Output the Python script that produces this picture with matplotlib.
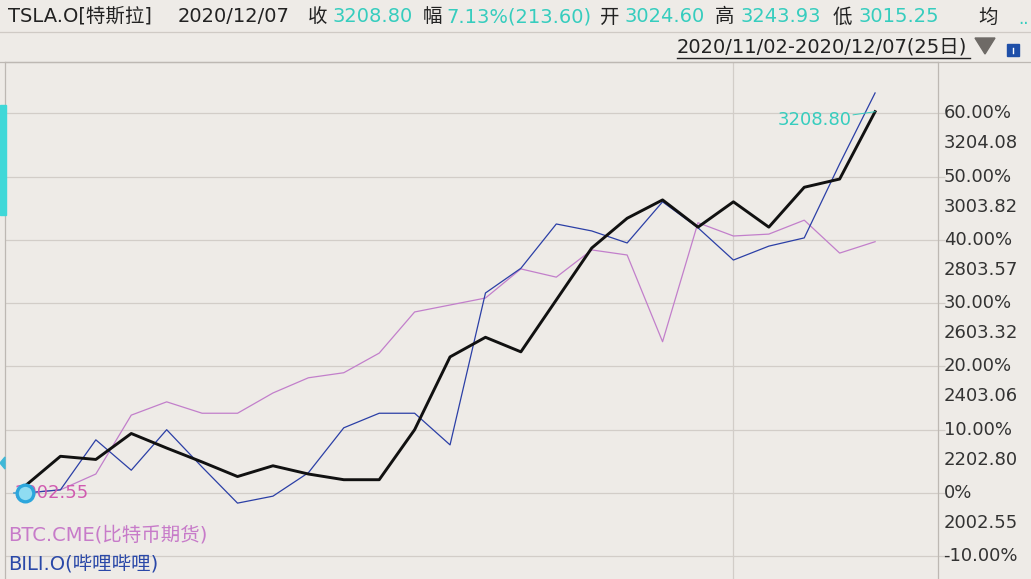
import matplotlib
matplotlib.use('Agg')
import matplotlib.pyplot as plt
from matplotlib.patches import Rectangle, Polygon
from matplotlib.lines import Line2D

# 数字用 DejaVu Sans，中文回退到 Noto Sans CJK
plt.rcParams['font.family'] = ['DejaVu Sans', 'Noto Sans CJK SC']
plt.rcParams['axes.unicode_minus'] = False

# ---- data (涨幅 %, 以 2020/11/02 前收 2002.55 为基准) ----
dates = ['11/02', '11/03', '11/04', '11/05', '11/06', '11/09', '11/10', '11/11', '11/12', '11/13',
         '11/16', '11/17', '11/18', '11/19', '11/20', '11/23', '11/24', '11/25', '11/27', '11/30',
         '12/01', '12/02', '12/03', '12/04', '12/07']
tsla_pct = [1.1, 5.8, 5.3, 9.4, 7.1, 4.9, 2.6, 4.3, 3.0, 2.1, 2.1, 10.0, 21.5, 24.6, 22.3,
            30.5, 38.7, 43.4, 46.3, 42.0, 46.0, 42.0, 48.3, 49.6, 60.24]
btc_pct = [0.0, 0.5, 3.0, 12.3, 14.4, 12.6, 12.6, 15.8, 18.2, 19.0, 22.1, 28.6, 29.7, 30.8, 35.4,
           34.1, 38.4, 37.6, 23.9, 42.7, 40.6, 40.9, 43.1, 37.9, 39.7]
bili_pct = [0.0, 0.5, 8.4, 3.6, 10.0, 4.1, -1.6, -0.5, 3.2, 10.3, 12.6, 12.6, 7.6, 31.6, 35.5,
            42.5, 41.4, 39.5, 46.0, 41.9, 36.8, 39.0, 40.3, 52.0, 63.2]

pct_ticks = [60, 50, 40, 30, 20, 10, 0, -10]
pct_labels = ['60.00%', '50.00%', '40.00%', '30.00%', '20.00%', '10.00%', '0%', '-10.00%']
price_labels = ['3204.08', '3003.82', '2803.57', '2603.32', '2403.06', '2202.80', '2002.55', '']

header_items = [('TSLA.O[特斯拉]', 'k'), ('2020/12/07', 'k'), ('收', 'k'), ('3208.80', 't'),
                ('幅', 'k'), ('7.13%(213.60)', 't'), ('开', 'k'), ('3024.60', 't'),
                ('高', 'k'), ('3243.93', 't'), ('低', 'k'), ('3015.25', 't'), ('均', 'k')]
header_x = [8, 178, 308, 333, 423, 446, 600, 625, 715, 740, 833, 858, 978]

W, H = 1031, 579
BG = '#EEEBE7'
TEAL = '#36CDBE'
GRID = '#D2CDC8'


def fx(x):
    return x / W


def fy(y):
    return 1 - y / H


fig = plt.figure(figsize=(W / 100, H / 100), dpi=100, facecolor=BG)

# 主图区域 (像素: x 5-938, y 62-579)
ax = fig.add_axes([fx(5), 0, fx(938) - fx(5), fy(62)])
ax.set_facecolor(BG)
x = list(range(len(dates)))
ax.set_xlim((5 - 25) / 35.42, (938 - 25) / 35.42)
ax.set_ylim((493 - 579) / 6.33, (493 - 62) / 6.33)

for p in pct_ticks:
    ax.axhline(p, color=GRID, lw=0.9, zorder=1)
ax.axvline(dates.index('12/01'), color=GRID, lw=0.9, zorder=1)

ax.plot(x, btc_pct, color='#C27FCB', lw=0.9, zorder=3)
ax.plot(x, bili_pct, color='#2B3FA6', lw=0.9, zorder=3)
ax.plot(x, tsla_pct, color='#111111', lw=2.1, zorder=4)

ax.spines['bottom'].set_visible(False)
for s in ['left', 'right', 'top']:
    ax.spines[s].set_color('#BDB8B3')
    ax.spines[s].set_linewidth(0.9)
ax.set_xticks([])
ax.yaxis.tick_right()
ax.set_yticks(pct_ticks)
ax.set_yticklabels([])
ax.tick_params(axis='y', length=5, color=GRID, width=0.9)

ytr = ax.get_yaxis_transform()
for p, pl, pr in zip(pct_ticks, pct_labels, price_labels):
    ax.text(1.006, p, pl, transform=ytr, fontsize=13, color='#333333',
            va='center', ha='left', clip_on=False)
    if pr:
        ax.text(1.006, p - 4.74, pr, transform=ytr, fontsize=13, color='#333333',
                va='center', ha='left', clip_on=False)

# 最新价标注
ax.text(x[-1] - 0.65, tsla_pct[-1] - 1.3, '3208.80', color=TEAL, fontsize=13,
        ha='right', va='center', zorder=5)
ax.plot([x[-1] - 0.62, x[-1]], [tsla_pct[-1] - 0.5, tsla_pct[-1]], color=TEAL, lw=0.7, zorder=5)

# 起点
ax.text(-0.28, 0, '2002.55', color='#D05AB0', fontsize=13, ha='left', va='center', zorder=5)
ax.plot([-0.3, 0.2], [0, 0], color='#4C9FD0', lw=1.2, zorder=5)
ax.plot([0], [0], marker='o', ms=12, mfc='#8FDCF2', mec='#2CA6DC', mew=2.4, zorder=6)

# 图例文字
ax.text(0.003, (493 - 535) / 6.33, 'BTC.CME(比特币期货)', transform=ytr, color='#C77BC9',
        fontsize=14, ha='left', va='center')
ax.text(0.003, (493 - 565) / 6.33, 'BILI.O(哔哩哔哩)', transform=ytr, color='#2A48A8',
        fontsize=14, ha='left', va='center')

# 顶部标题栏
for (t, c), xp in zip(header_items, header_x):
    fig.text(fx(xp), fy(17), t, color='#222222' if c == 'k' else TEAL,
             fontsize=14, ha='left', va='center')
fig.text(fx(1018), fy(19), '..', color=TEAL, fontsize=12, ha='left', va='center')

fig.add_artist(Line2D([0, 1], [fy(32), fy(32)], color='#CFCAC5', lw=0.9))
fig.add_artist(Line2D([0, 1], [fy(62), fy(62)], color='#BDB8B3', lw=0.9))

fig.text(fx(677), fy(47), '2020/11/02-2020/12/07(25日)', color='#222222',
         fontsize=14, ha='left', va='center')
fig.add_artist(Line2D([fx(677), fx(970)], [fy(58), fy(58)], color='#222222', lw=1.0))
fig.add_artist(Polygon([[fx(975), fy(38)], [fx(995), fy(38)], [fx(985), fy(54)]],
                       closed=True, color='#6E6A66', transform=fig.transFigure))
fig.add_artist(Rectangle((fx(1007), fy(56)), fx(12), fy(44) - fy(56), color='#1F4FA8',
                         transform=fig.transFigure))
fig.add_artist(Line2D([fx(1013), fx(1013)], [fy(53), fy(48)], color='white', lw=1.0))

# 左侧标记
fig.add_artist(Rectangle((0, fy(215)), fx(6), fy(105) - fy(215), color='#3FD8D8',
                         transform=fig.transFigure))
fig.add_artist(Polygon([[0, fy(463)], [fx(5), fy(457)], [fx(5), fy(469)]], closed=True,
                       color='#3FB8D8', transform=fig.transFigure))

fig.savefig('out.png', dpi=100, facecolor=BG)
